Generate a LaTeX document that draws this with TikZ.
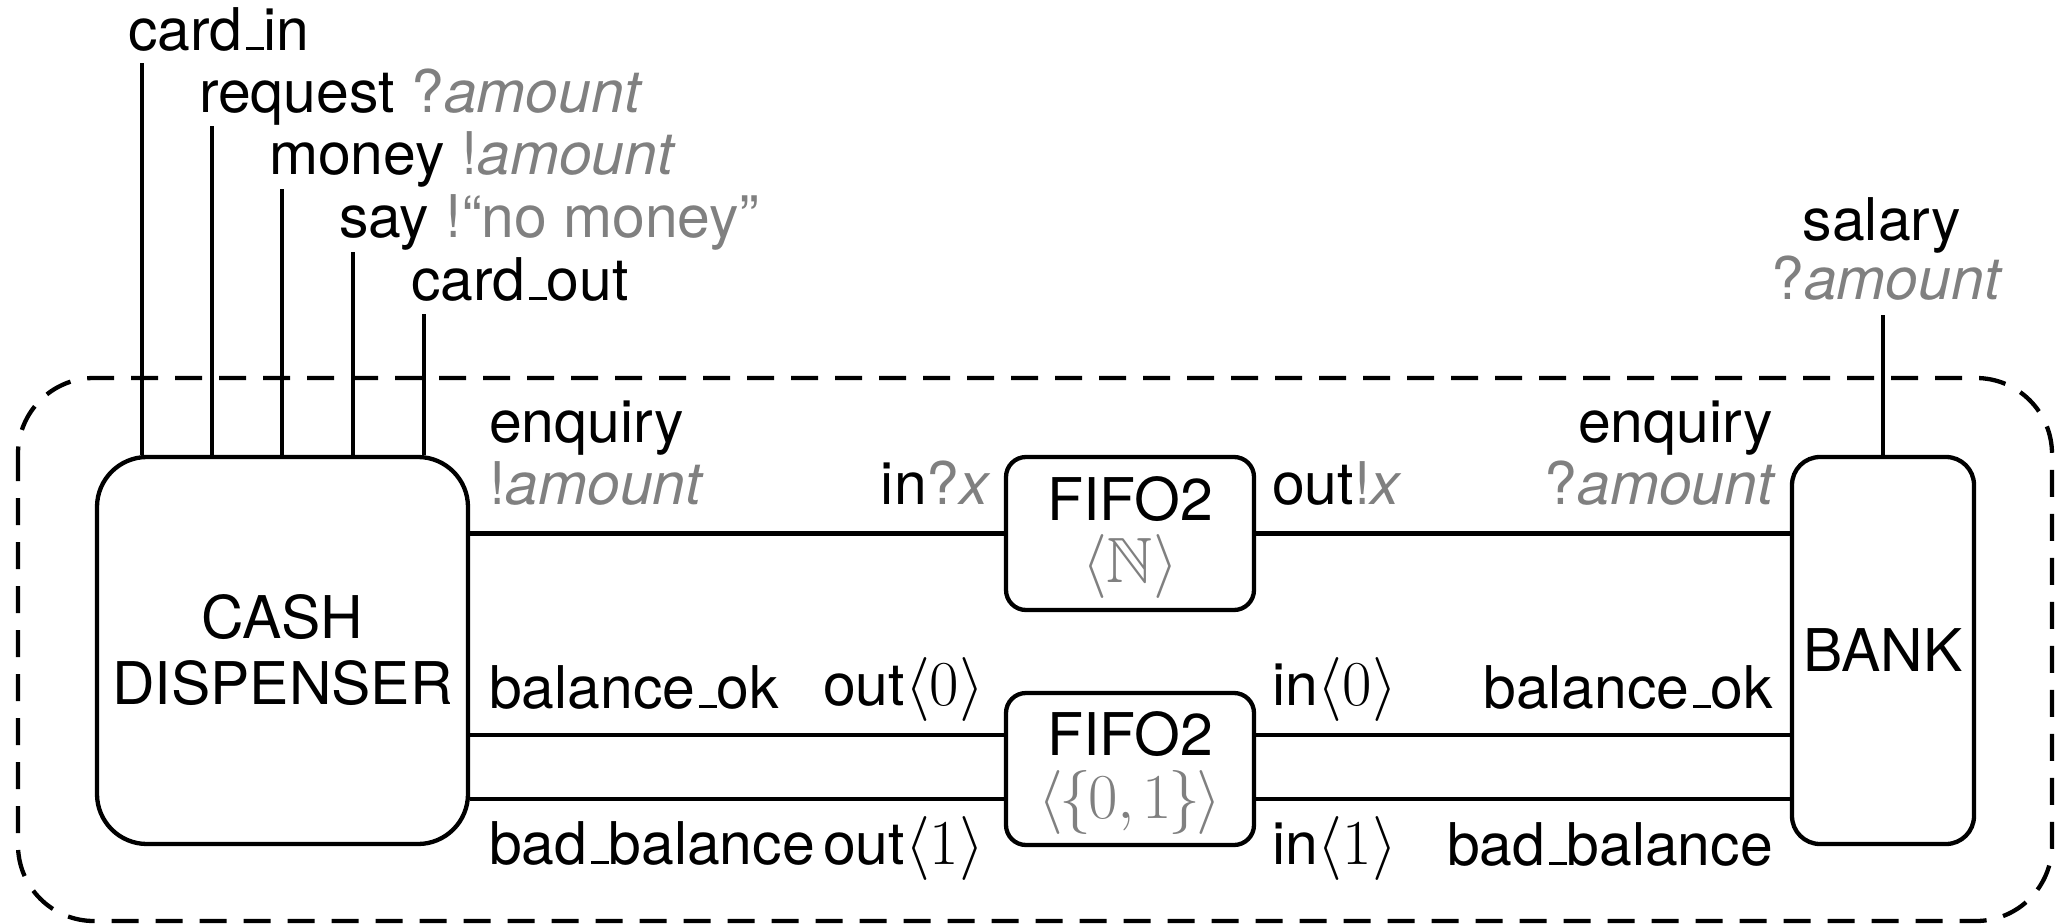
\RequirePackage{fix-cm}
\documentclass[tikz,border=0pt]{standalone}
\usepackage{amssymb}
\usepackage[no-math]{fontspec}
\setmainfont{TeX Gyre Heros}[Scale=0.92]
% short LaTeX-style underscore rule
\newcommand\usc{\kern.06em\vbox{\hrule height 2.8pt width .3em}}
\colorlet{chan}{black!50}

\begin{document}
\begin{tikzpicture}[x=1pt, y=-1pt, line width=4.3pt,
  font=\fontsize{64}{66}\selectfont,
  proc/.style={draw, rounded corners=#1, align=center, inner sep=0pt},
  lbl/.style={inner sep=0pt},
  frame/.style={dash pattern=on 27pt off 17pt, rounded corners=76pt}]

\useasboundingbox (0,0) rectangle (2057,924);

% system boundary
\draw[frame] (18,378) rectangle (2052,921);

% processes
\node[proc=50pt, minimum width=371pt, minimum height=387pt] (cash) at (282.5,650.5) {CASH\\DISPENSER};
\node[proc=28pt, minimum width=182pt, minimum height=387pt] (bank) at (1883,650.5) {BANK};
\node[proc=20pt, minimum width=248pt, minimum height=153pt] (fa) at (1130,533.5) {};
\node[proc=20pt, minimum width=248pt, minimum height=152pt] (fb) at (1130,769) {};

% buffer contents
\node[lbl, anchor=base] (fatitle) at ([yshift=13.5pt]fa.center) {FIFO2};
\node[lbl, anchor=base] (fatype) at ([yshift=-48.5pt]fa.center) {\textcolor{chan}{$\langle\mathbb{N}\rangle$}};
\node[lbl, anchor=base] (fbtitle) at ([yshift=14pt]fb.center) {FIFO2};
\node[lbl, anchor=base] (fbtype) at ([yshift=-49pt]fb.center)
  {\textcolor{chan}{$\langle\kern-4pt\lbrace\kern-3.5pt 0{,}\kern7.5pt 1\kern-3.5pt\rbrace\kern-4pt\rangle$}};

% external channels of the cash dispenser
\coordinate (p1) at (142,63);
\coordinate (p2) at (212,126);
\coordinate (p3) at (282,189);
\coordinate (p4) at (353,252);
\coordinate (p5) at (424,314);
\foreach \p in {p1,p2,p3,p4,p5} \draw (\p) -- (\p |- cash.north);

\node[lbl, anchor=base west] (l1) at (126,50) {card\usc in};
\node[lbl, anchor=base west] (l2) at (197,112) {request \textcolor{chan}{?\textit{amount}}};
\node[lbl, anchor=base west] (l3) at (267,174) {money \textcolor{chan}{!\textit{amount}}};
\node[lbl, anchor=base west] (l4) at (337,237) {say \textcolor{chan}{!“no money”}};
\node[lbl, anchor=base west] (l5) at (409,300) {card\usc out};

% external channel of the bank
\coordinate (sal) at (1883,315);
\draw (sal) -- (bank.north);
\node[lbl, anchor=base] (s1) at (1882,240) {salary};
\node[lbl, anchor=base] (s2) at (1887,299) {\textcolor{chan}{?\textit{amount}}};

% internal channels
\coordinate (ok) at (0,735);
\coordinate (bad) at (0,799);
\draw (cash.east |- fa.west) -- (fa.west);
\draw (fa.east) -- (bank.west |- fa.east);
\draw (cash.east |- ok) -- (fb.west |- ok);
\draw (fb.east |- ok) -- (bank.west |- ok);
\draw (cash.east |- bad) -- (fb.west |- bad);
\draw (fb.east |- bad) -- (bank.west |- bad);

% channel labels
\node[lbl, anchor=base west] (e1) at (487,442) {enquiry};
\node[lbl, anchor=base west] (e2) at (487,504) {\textcolor{chan}{!\textit{amount}}};
\node[lbl, anchor=base east] (e3) at (993,504) {in\textcolor{chan}{?\textit{x}}};
\node[lbl, anchor=base west] (e4) at (1270,504) {out\textcolor{chan}{!\textit{x}}};
\node[lbl, anchor=base east] (e5) at (1775,442) {enquiry};
\node[lbl, anchor=base east] (e6) at (1778,504) {\textcolor{chan}{?\textit{amount}}};

\node[lbl, anchor=base west] (b1) at (487,708) {balance\usc ok};
\node[lbl, anchor=base west] (b2) at (821,705) {out$\langle 0\rangle$};
\node[lbl, anchor=base west] (b3) at (1270,705) {in$\langle 0\rangle$};
\node[lbl, anchor=base east] (b4) at (1775,708) {balance\usc ok};

\node[lbl, anchor=base west] (d1) at (487,864) {bad\usc balance};
\node[lbl, anchor=base west] (d2) at (821,864) {out$\langle 1\rangle$};
\node[lbl, anchor=base west] (d3) at (1270,864) {in$\langle 1\rangle$};
\node[lbl, anchor=base east] (d4) at (1775,865) {bad\usc balance};
\end{tikzpicture}
\end{document}
